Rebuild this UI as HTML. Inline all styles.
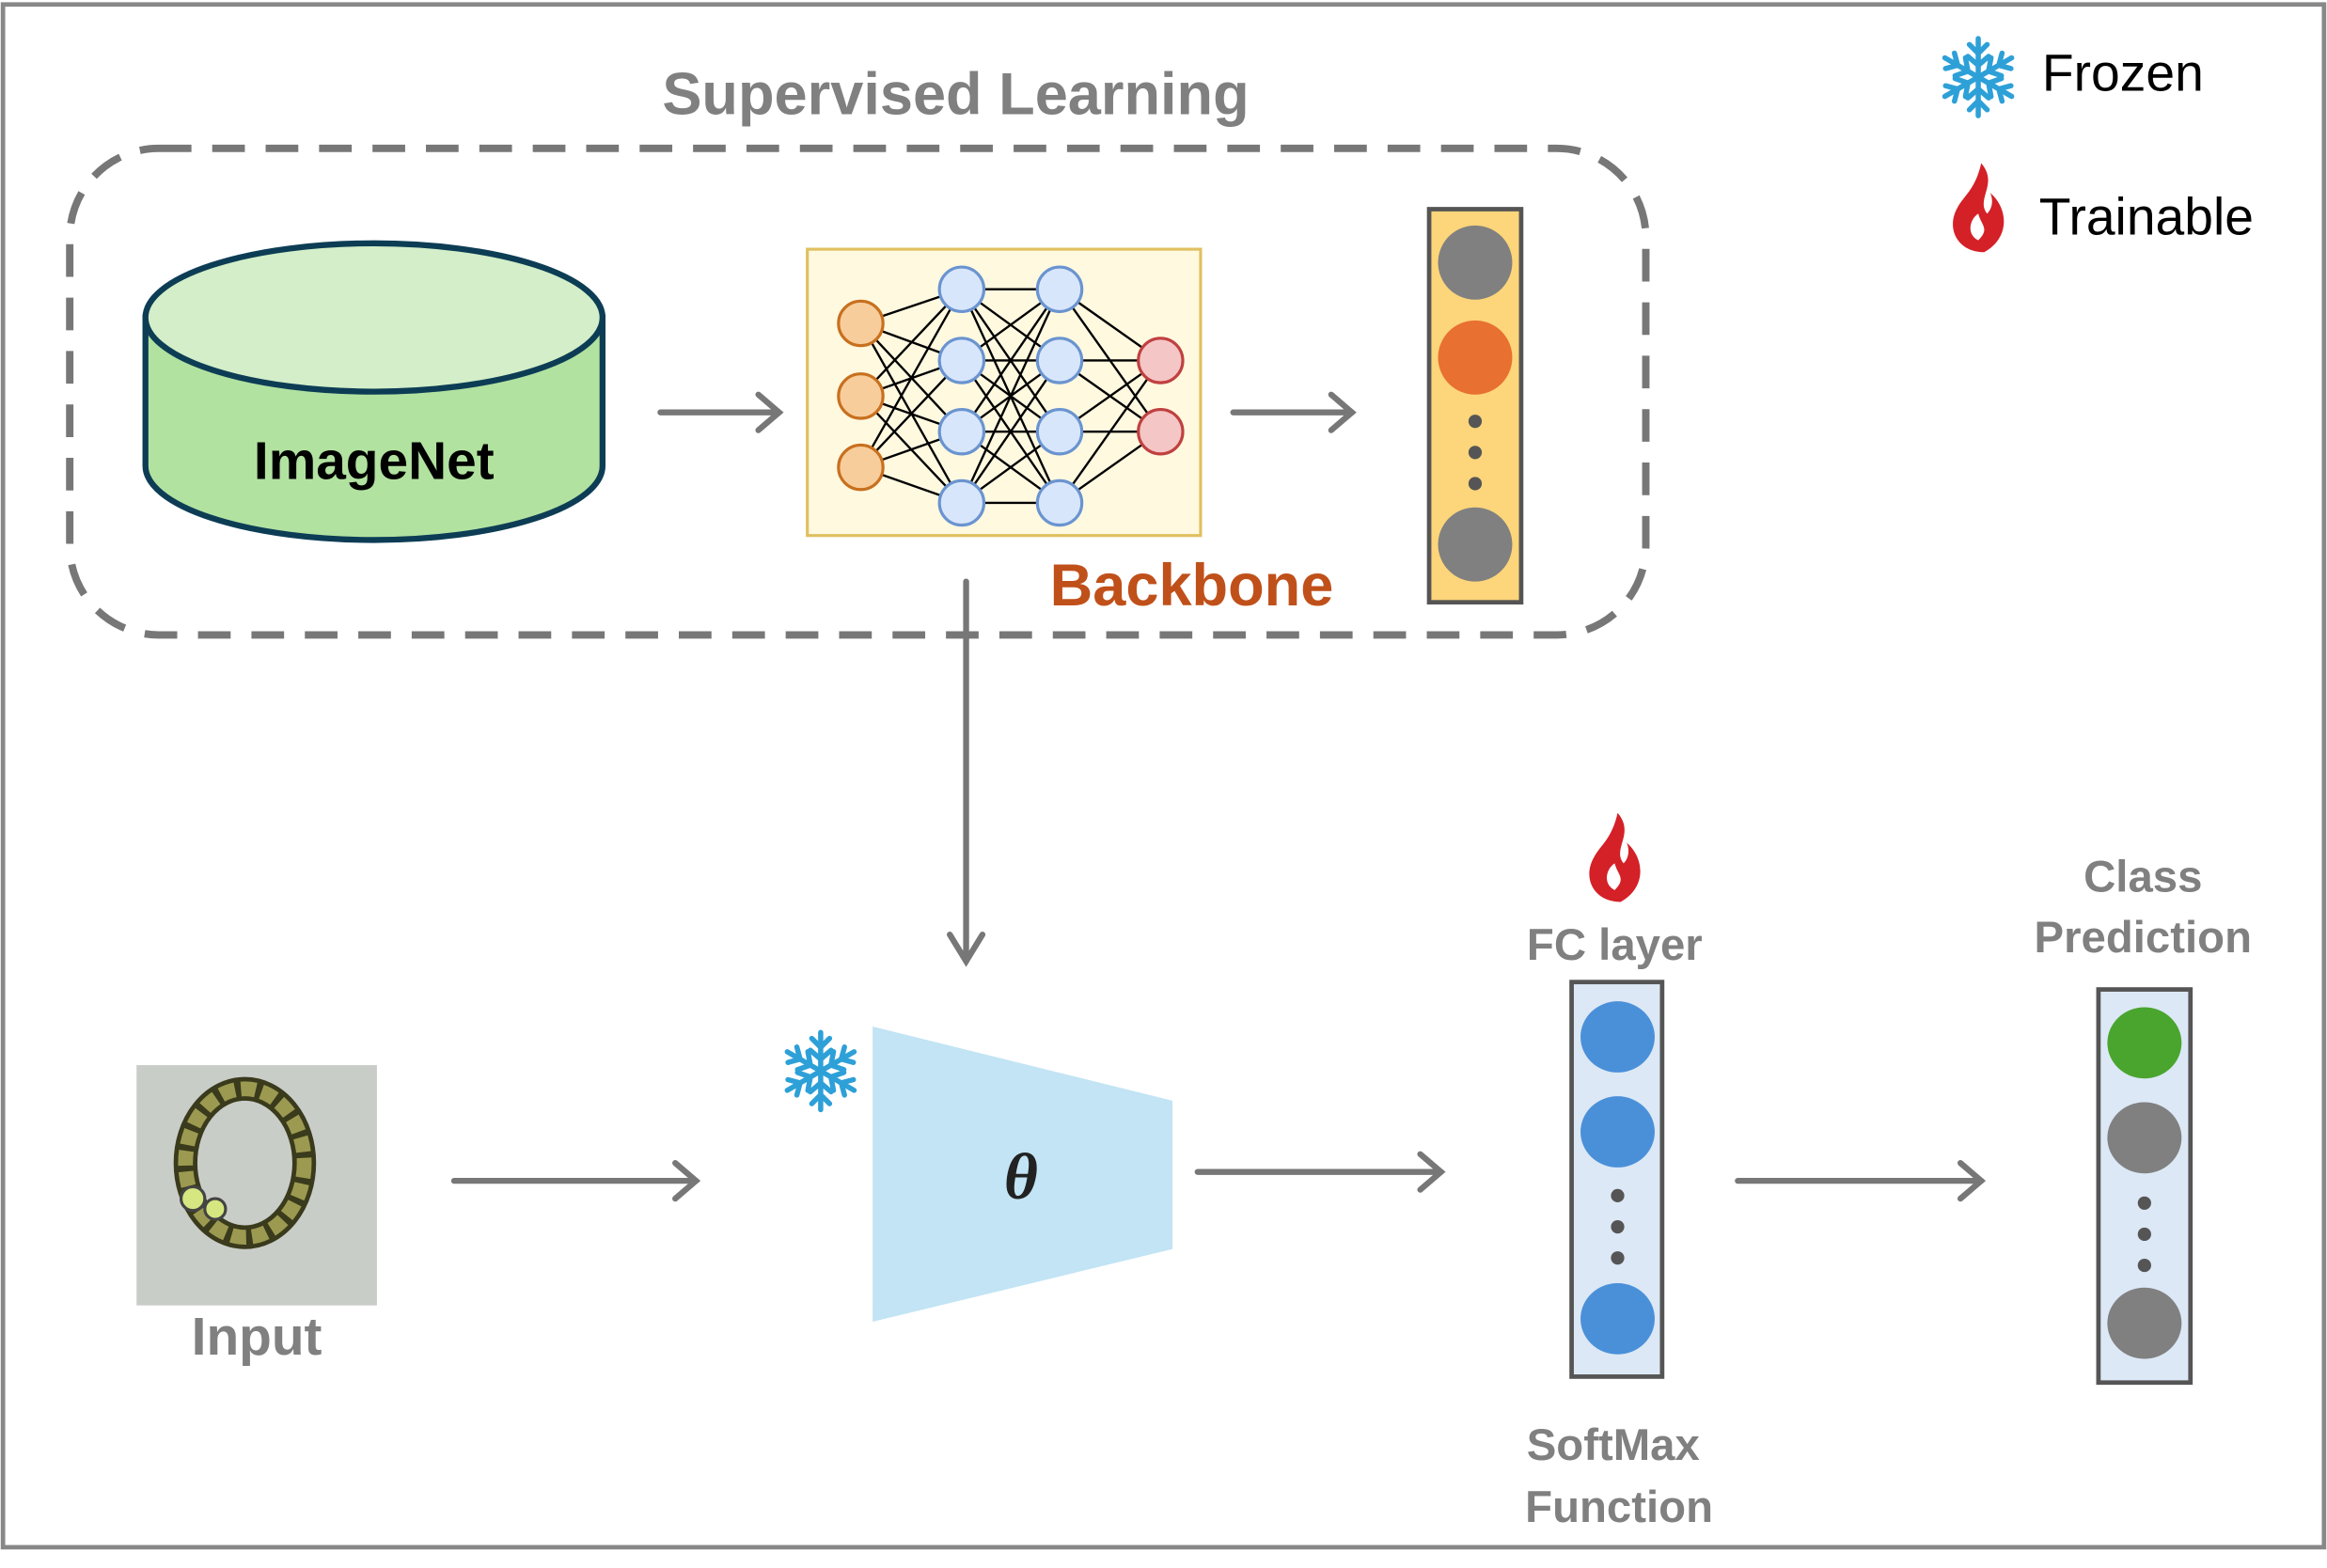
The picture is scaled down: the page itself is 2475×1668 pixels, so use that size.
<!DOCTYPE html>
<html><head><meta charset="utf-8"><style>html,body{margin:0;padding:0;background:#fff}svg{display:block}</style></head>
<body>
<svg width="2475" height="1668" viewBox="0 0 1568 1057" preserveAspectRatio="none" xmlns="http://www.w3.org/2000/svg" font-family="Liberation Sans, sans-serif">
<defs>
<g id="snow" stroke="#2ea0d8" stroke-width="3.5" stroke-linecap="round" fill="none">
<g id="arm"><line x1="0" y1="0" x2="0" y2="-26"/><polyline points="-6,-22 0,-16 6,-22"/><polyline points="-7,-14 0,-8 7,-14"/></g>
<use href="#arm" transform="rotate(60)"/><use href="#arm" transform="rotate(120)"/><use href="#arm" transform="rotate(180)"/><use href="#arm" transform="rotate(240)"/><use href="#arm" transform="rotate(300)"/>
</g>
<path id="flame" fill="#d42027" d="M2,-30 C14,-16 -2,-6 6,4 C10,0 10,-6 8,-10 C20,0 22,20 4,30 C-14,30 -22,14 -14,0 C-10,-8 -2,-12 2,-30 Z M0,22 C-8,18 -6,8 0,4 C2,12 8,14 0,22 Z" fill-rule="evenodd"/>
</defs>
<rect x="2" y="3" width="1564" height="1040" fill="#fff" stroke="#888" stroke-width="3"/>
<text x="644" y="77" text-anchor="middle" font-size="40" font-weight="bold" fill="#808080">Supervised Learning</text>
<rect x="47" y="100" width="1062" height="328" rx="60" fill="none" stroke="#777" stroke-width="5" stroke-dasharray="22 14"/>
<path d="M98,214 L98,314 A154,50 0 0 0 406,314 L406,214 Z" fill="#b2e2a0" stroke="#0d3d55" stroke-width="4"/>
<ellipse cx="252" cy="214" rx="154" ry="50" fill="#d3eec8" stroke="#0d3d55" stroke-width="4"/>
<text x="252" y="323" text-anchor="middle" font-size="36" font-weight="bold" fill="#000">ImageNet</text>
<g stroke="#777" stroke-width="4" fill="none" stroke-linecap="round">
<line x1="445" y1="278" x2="525" y2="278"/><polyline points="511,266 525,278 511,290"/>
<line x1="831" y1="278" x2="911" y2="278"/><polyline points="897,266 911,278 897,290"/>
<line x1="651" y1="392" x2="651" y2="648"/><polyline points="640,630 651,648 662,630"/>
<line x1="306" y1="796" x2="469" y2="796"/><polyline points="455,784 469,796 455,808"/>
<line x1="807" y1="790" x2="971" y2="790"/><polyline points="957,778 971,790 957,802"/>
<line x1="1171" y1="796" x2="1335" y2="796"/><polyline points="1321,784 1335,796 1321,808"/>
</g>
<rect x="544" y="168" width="265" height="193" fill="#fff9e0" stroke="#e0c060" stroke-width="2"/>
<g stroke="#000" stroke-width="1.5">
<path d="M580,218L648,195M580,218L648,243M580,218L648,291M580,218L648,339M580,267L648,195M580,267L648,243M580,267L648,291M580,267L648,339M580,315L648,195M580,315L648,243M580,315L648,291M580,315L648,339"/>
<path d="M648,195L714,195M648,195L714,243M648,195L714,291M648,195L714,339M648,243L714,195M648,243L714,243M648,243L714,291M648,243L714,339M648,291L714,195M648,291L714,243M648,291L714,291M648,291L714,339M648,339L714,195M648,339L714,243M648,339L714,291M648,339L714,339"/>
<path d="M714,195L782,243M714,195L782,291M714,243L782,243M714,243L782,291M714,291L782,243M714,291L782,291M714,339L782,243M714,339L782,291"/>
</g>
<g stroke-width="2">
<g fill="#f8cd9c" stroke="#c8701e"><circle cx="580" cy="218" r="15"/><circle cx="580" cy="267" r="15"/><circle cx="580" cy="315" r="15"/></g>
<g fill="#d8e6fb" stroke="#6a94d0"><circle cx="648" cy="195" r="15"/><circle cx="648" cy="243" r="15"/><circle cx="648" cy="291" r="15"/><circle cx="648" cy="339" r="15"/><circle cx="714" cy="195" r="15"/><circle cx="714" cy="243" r="15"/><circle cx="714" cy="291" r="15"/><circle cx="714" cy="339" r="15"/></g>
<g fill="#f5c6c6" stroke="#c04040"><circle cx="782" cy="243" r="15"/><circle cx="782" cy="291" r="15"/></g>
</g>
<text x="803" y="408" text-anchor="middle" font-size="40" font-weight="bold" fill="#c0501a">Backbone</text>
<rect x="963" y="141" width="62" height="265" fill="#fdd57a" stroke="#555" stroke-width="3"/>
<ellipse cx="994" cy="177" rx="25" ry="25" fill="#808080"/>
<ellipse cx="994" cy="241" rx="25" ry="25" fill="#e87030"/>
<circle cx="994" cy="284" r="4.5" fill="#555"/><circle cx="994" cy="305" r="4.5" fill="#555"/><circle cx="994" cy="326" r="4.5" fill="#555"/>
<ellipse cx="994" cy="367" rx="25" ry="25" fill="#808080"/>
<use href="#snow" transform="translate(1333,52)"/>
<text x="1376" y="61" font-size="35" fill="#000">Frozen</text>
<use href="#flame" transform="translate(1333,140)"/>
<text x="1374" y="158" font-size="35" fill="#000">Trainable</text>
<rect x="92" y="718" width="162" height="162" fill="#c9cdc8"/>
<ellipse cx="165" cy="784" rx="40" ry="50" fill="none" stroke="#3a3a1c" stroke-width="16"/>
<ellipse cx="165" cy="784" rx="40" ry="50" fill="none" stroke="#9c9a50" stroke-width="10" stroke-dasharray="10 4"/>
<circle cx="130" cy="808" r="8" fill="#d6e680" stroke="#444" stroke-width="2"/>
<circle cx="145" cy="815" r="7" fill="#d6e680" stroke="#444" stroke-width="2"/>
<text x="173" y="913" text-anchor="middle" font-size="36" font-weight="bold" fill="#808080">Input</text>
<use href="#snow" transform="translate(553,722)"/>
<polygon points="588,692 790,742 790,842 588,891" fill="#c2e4f4"/>
<text x="688" y="808" text-anchor="middle" font-size="44" font-weight="bold" font-style="italic" font-family="Liberation Serif, serif" fill="#222">θ</text>
<use href="#flame" transform="translate(1088,578)"/>
<text x="1088" y="647" text-anchor="middle" font-size="30" font-weight="bold" fill="#808080">FC layer</text>
<rect x="1059" y="662" width="61" height="266" fill="#dce8f5" stroke="#555" stroke-width="3"/>
<g fill="#4a90d9"><ellipse cx="1090" cy="699" rx="25" ry="24"/><ellipse cx="1090" cy="763" rx="25" ry="24"/><ellipse cx="1090" cy="889" rx="25" ry="24"/></g>
<g fill="#555"><circle cx="1090" cy="806" r="4.5"/><circle cx="1090" cy="827" r="4.5"/><circle cx="1090" cy="848" r="4.5"/></g>
<text x="1087" y="984" text-anchor="middle" font-size="30" font-weight="bold" fill="#808080">SoftMax</text>
<text x="1091" y="1026" text-anchor="middle" font-size="30" font-weight="bold" fill="#808080">Function</text>
<text x="1444" y="601" text-anchor="middle" font-size="30" font-weight="bold" fill="#808080">Class</text>
<text x="1444" y="642" text-anchor="middle" font-size="30" font-weight="bold" fill="#808080">Prediction</text>
<rect x="1414" y="667" width="62" height="265" fill="#dce8f5" stroke="#555" stroke-width="3"/>
<ellipse cx="1445" cy="703" rx="25" ry="24" fill="#4aa52e"/>
<ellipse cx="1445" cy="767" rx="25" ry="24" fill="#808080"/>
<ellipse cx="1445" cy="892" rx="25" ry="24" fill="#808080"/>
<g fill="#555"><circle cx="1445" cy="811" r="4.5"/><circle cx="1445" cy="832" r="4.5"/><circle cx="1445" cy="853" r="4.5"/></g>
</svg>
</body></html>
